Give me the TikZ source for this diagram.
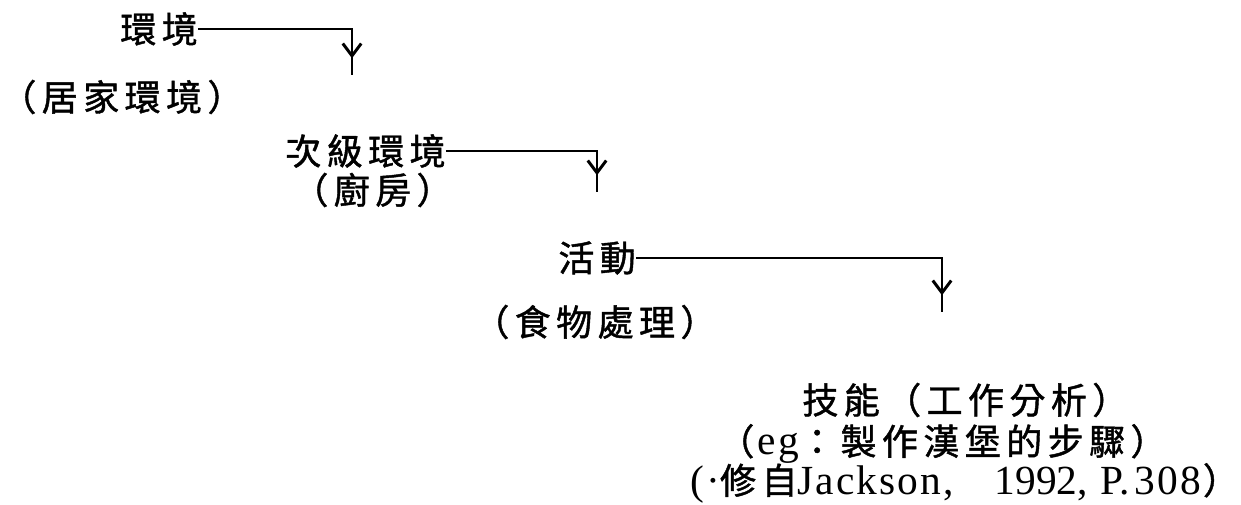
\documentclass[tikz,border=0pt]{standalone}
\usepackage{fontspec}
\setmainfont{Liberation Serif}
\newfontfamily\cjk[LetterSpace=15,FakeBold=1.2]{Noto Sans CJK TC}
\newfontfamily\lat[Scale=1.15,LetterSpace=5]{Liberation Serif}
\newfontfamily\num[Scale=1.15]{Liberation Serif}
\usetikzlibrary{arrows.meta,positioning,decorations.markings}

\begin{document}
\begin{tikzpicture}[x=0.02cm, y=-0.02cm,
    label/.style = {anchor=west, inner sep=0pt, font=\fontsize{20.5pt}{24pt}\selectfont\cjk},
    link/.style = {line width=1.1pt, postaction={decorate}, decoration={markings,
        mark=at position -9.5pt with {\arrow[line width=1.7pt]{Straight Barb[length=7pt,width=10.5pt]}}}}
]
\useasboundingbox (0,0) rectangle (1241,504);

% Levels
\node (env) [label] at (120,29) {環境};
\node (home) [label] at (0,97) {（居家環境）};
\node (sub) [label] at (285,151) {次級環境};
\node (kitchen) [label] at (292,190) {（廚房）};
\node (act) [label] at (558,258) {活動};
\node (food) [label] at (473,322) {（食物處理）};
\node (skill) [label] at (802,400) {技能（工作分析）};
\node (eg) [label] at (718,444) {（\hspace{0.1em}{\lat eg}：製作漢堡的步驟）};
\node (src) [label] at (690,483) {{\lat(·}修自{\lat Jackson,}\hspace{1.15em}{\num 1992,}\hspace{0.35em}{\num P.}\hspace{0.15em}{\lat 308}\hspace{0.05em}）};

% Ends of the arrows
\coordinate (t1) at (352,75);
\coordinate (t2) at (597,192);
\coordinate (t3) at (942,312);

% Links
\draw [link] (env.east) -| (t1);
\draw [link] (sub.east) -| (t2);
\draw [link] (act.east) -| (t3);

\end{tikzpicture}
\end{document}
